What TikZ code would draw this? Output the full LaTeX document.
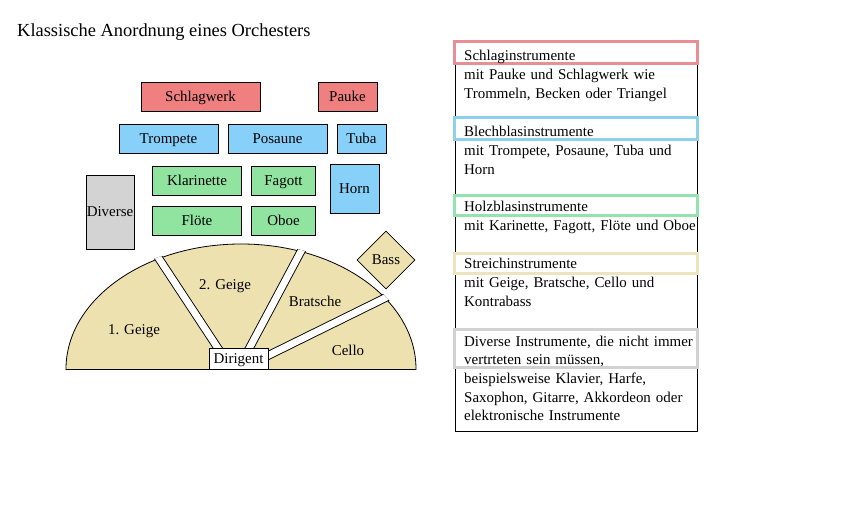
\documentclass[tikz,border=0pt]{standalone}
\usepackage{fontspec}
\setmainfont{Liberation Serif}
\usetikzlibrary{positioning,shapes.geometric}
\definecolor{schlag}{RGB}{240,128,128}
\definecolor{blech}{RGB}{135,208,250}
\definecolor{holz}{RGB}{144,228,160}
\definecolor{streich}{RGB}{238,225,176}
\definecolor{divers}{RGB}{211,211,211}
\definecolor{schlagrand}{RGB}{232,142,148}
\definecolor{blechrand}{RGB}{140,210,238}
\definecolor{holzrand}{RGB}{150,226,172}
\definecolor{streichrand}{RGB}{236,228,190}
\definecolor{diversrand}{RGB}{210,210,210}

\begin{document}
\begin{tikzpicture}[x=1bp,y=-1bp,
  ins/.style={draw=black,line width=0.8bp,inner sep=0pt,outer sep=0pt,minimum height=29bp,text height=11.5bp,text depth=1.5bp,font=\fontsize{15}{18}\selectfont},
  lbl/.style={inner sep=0pt,text height=11.5bp,text depth=1.5bp,font=\fontsize{15}{18}\selectfont},
  txt/.style={inner sep=0pt,anchor=base west,align=left,text width=236bp,font=\fontsize{15}{18.8}\selectfont},
  rand/.style={line width=3bp}]
\useasboundingbox[fill=white] (0,0) rectangle (850,517);
\node[inner sep=0pt,anchor=base west,font=\fontsize{18.5}{22}\selectfont] (titel) at (17,36.5) {Klassische Anordnung eines Orchesters};

\node[ins,fill=schlag,minimum width=119bp] (sw) at (200.5,96.5) {Schlagwerk};
\node[ins,fill=schlag,minimum width=59bp] (pk) at (347.5,96.5) {Pauke};
\node[ins,fill=blech,minimum width=99bp] (tr) at (168.5,138.5) {Trompete};
\node[ins,fill=blech,minimum width=99bp] (ps) at (277.5,138.5) {Posaune};
\node[ins,fill=blech,minimum width=49bp] (tb) at (361.5,138.5) {Tuba};
\node[ins,fill=holz,minimum width=89bp] (kl) at (197,181) {Klarinette};
\node[ins,fill=holz,minimum width=64bp] (fg) at (283.5,181) {Fagott};
\node[ins,fill=blech,minimum width=49bp,minimum height=49bp] (hn) at (354.5,188.5) {Horn};
\node[ins,fill=holz,minimum width=89bp] (fl) at (197,221) {Flöte};
\node[ins,fill=holz,minimum width=64bp] (ob) at (283.5,221) {Oboe};
\node[ins,fill=divers,minimum width=48bp,minimum height=74bp] (dv) at (110,212) {Diverse};

\begin{scope}
\clip (60,230) rectangle (420,369.4);
\fill[streich] (241,369) ellipse [x radius=175bp,y radius=125bp];
\draw[line width=0.8bp] (241,369) ellipse [x radius=175bp,y radius=125bp];
\end{scope}
\draw[line width=0.8bp] (66,369) -- (416,369);

\coordinate (g1a) at (227,362);
\coordinate (g1b) at (150,245);
\coordinate (g2a) at (242,362);
\coordinate (g2b) at (307,240);
\coordinate (g3a) at (255,362);
\coordinate (g3b) at (395,293);
\begin{scope}
\clip (241,369) ellipse [x radius=176.5bp,y radius=126.5bp];
\clip (60,230) rectangle (420,369);
\foreach \a/\b in {g1a/g1b,g2a/g2b,g3a/g3b}{
  \draw[line width=8.6bp] (\a) -- (\b);
  \draw[white,line width=6.8bp] (\a) -- (\b);
}
\end{scope}

\node[lbl] (g1) at (134,330) {1. Geige};
\node[lbl] (g2) at (225,285) {2. Geige};
\node[lbl] (br) at (315,302) {Bratsche};
\node[lbl] (ce) at (348,350) {Cello};
\node[diamond,draw=black,line width=0.8bp,fill=streich,inner sep=0pt,minimum width=58bp,minimum height=58bp,text height=11.5bp,text depth=1.5bp,font=\fontsize{15}{18}\selectfont] (bs) at (386,260) {Bass};
\node[ins,fill=white,minimum width=59bp,minimum height=21bp] (dg) at (238.5,358.5) {Dirigent};

\draw[line width=0.8bp] (455,42) rectangle (697,431);
\draw[rand,schlagrand] (454.5,41.5) rectangle (697.5,63.5);
\draw[rand,blechrand] (454.5,117.5) rectangle (697.5,139.5);
\draw[rand,holzrand] (454.5,195.5) rectangle (697.5,216);
\draw[rand,streichrand] (454.5,253.5) rectangle (697.5,273.5);
\draw[rand,diversrand] (454.5,329.5) rectangle (697.5,367.5);

\node[txt] (t1) at (464,61) {Schlaginstrumente\\mit Pauke und Schlagwerk wie\\Trommeln, Becken oder Triangel};
\node[txt] (t2) at (464,137) {Blechblasinstrumente\\mit Trompete, Posaune, Tuba und\\Horn};
\node[txt] (t3) at (464,212) {Holzblasinstrumente\\mit Karinette, Fagott, Flöte und Oboe};
\node[txt] (t4) at (464,269) {Streichinstrumente\\mit Geige, Bratsche, Cello und\\Kontrabass};
\node[txt] (t5) at (464,346) {Diverse Instrumente, die nicht immer\\vertrteten sein müssen,\\beispielsweise Klavier, Harfe,\\Saxophon, Gitarre, Akkordeon oder\\elektronische Instrumente};
\end{tikzpicture}
\end{document}
